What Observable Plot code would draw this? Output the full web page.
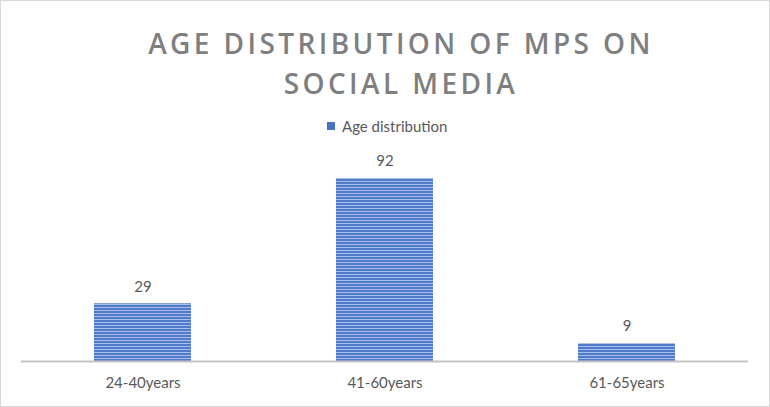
<!DOCTYPE html>
<html><head><meta charset="utf-8">
<script src="https://cdn.jsdelivr.net/npm/d3@7"></script>
<script src="https://cdn.jsdelivr.net/npm/@observablehq/plot@0.6"></script>
<style>
html,body{margin:0;padding:0;background:#fff;}
#wrap{position:relative;width:770px;height:407px;overflow:hidden;font-family:Lato,sans-serif;background:#fff;}
#frame{position:absolute;left:0;top:0;width:770px;height:407px;box-sizing:border-box;border:1px solid #d9d9d9;pointer-events:none;}
#title{position:absolute;left:131px;top:23px;width:540px;text-align:center;font-family:'Open Sans',sans-serif;font-weight:600;font-size:28px;line-height:40px;letter-spacing:3.4px;color:#7f7f7f;}
#legend{position:absolute;top:117px;left:327px;height:18px;display:flex;align-items:center;font-family:Lato,sans-serif;font-size:15px;color:#595959;white-space:nowrap;}
#legend .sw{width:8px;height:8px;background:#4472c4;margin-right:7px;}
#chart{position:absolute;left:0;top:140px;}
</style>
</head><body>
<div id="wrap">
  <div id="title"></div>
  <div id="legend"><span class="sw"></span><span id="legtext"></span></div>
  <div id="chart"></div>
  <div id="frame"></div>
</div>
<script>
const titleText = "AGE DISTRIBUTION OF MPS ON SOCIAL MEDIA";
const seriesName = "Age distribution";
const categories = ["24-40years", "41-60years", "61-65years"];
const values = [29, 92, 9];

const data = categories.map((c, i) => ({cat: c, value: values[i]}));

document.getElementById("title").textContent = titleText;
document.getElementById("legtext").textContent = seriesName;

const chart = Plot.plot({
  width: 770,
  height: 267,
  marginLeft: 21,
  marginRight: 22,
  marginTop: 22,
  marginBottom: 46,
  x: {domain: categories, paddingInner: 0.6, paddingOuter: 0.3, label: null},
  y: {domain: [0, 100], axis: null},
  style: {fontFamily: "Lato, sans-serif", fontSize: "15px", color: "#595959", background: "transparent"},
  marks: [
    Plot.barY(data, {x: "cat", y: "value", fill: "url(#hstripes)"}),
    Plot.ruleY([0], {stroke: "#c4c4c4", strokeWidth: 2}),
    Plot.text(data, {x: "cat", y: "value", text: d => String(d.value), dy: -17, fill: "#595959", fontSize: 15}),
    Plot.axisX({tickSize: 0, tickPadding: 16, fontSize: 15, label: null})
  ]
});

const defs = d3.select(chart).insert("defs", ":first-child");
const pat = defs.append("pattern").attr("id", "hstripes").attr("patternUnits", "userSpaceOnUse")
  .attr("width", 6).attr("height", 3);
pat.append("rect").attr("width", 6).attr("height", 3).attr("fill", "#4f79c9");
pat.append("rect").attr("y", 2).attr("width", 6).attr("height", 1).attr("fill", "#a7bee9");

document.getElementById("chart").appendChild(chart);
</script>
</body></html>
